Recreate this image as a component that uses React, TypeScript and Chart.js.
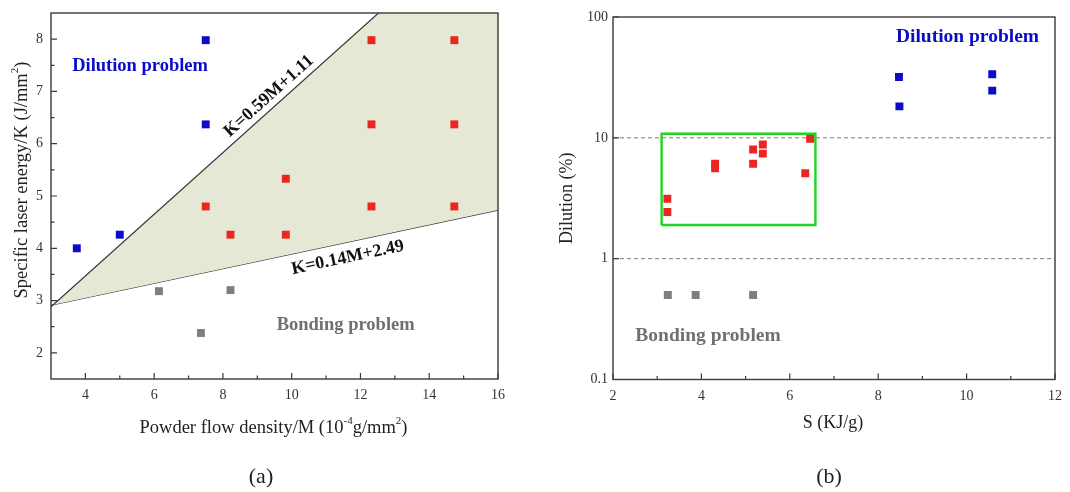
import React, { useEffect, useRef } from 'react';
import { Chart, registerables } from 'chart.js';

Chart.register(...registerables);

// ---------- Panel (a) data ----------
const dilutionA = [
  { x: 3.75, y: 4.0 }, { x: 5.0, y: 4.26 }, { x: 7.5, y: 6.37 }, { x: 7.5, y: 7.98 },
];
const suitableA = [
  { x: 12.32, y: 7.98 }, { x: 14.73, y: 7.98 }, { x: 12.32, y: 6.37 }, { x: 14.73, y: 6.37 },
  { x: 9.83, y: 5.33 }, { x: 7.5, y: 4.8 }, { x: 12.32, y: 4.8 }, { x: 14.73, y: 4.8 },
  { x: 8.22, y: 4.26 }, { x: 9.83, y: 4.26 },
];
const bondingA = [{ x: 6.14, y: 3.18 }, { x: 8.22, y: 3.2 }, { x: 7.36, y: 2.38 }];
// K = 0.59M + 1.11 and K = 0.14M + 2.49, evaluated at M = 3 and M = 16
const upperLineA = [{ x: 3, y: 2.88 }, { x: 16, y: 10.55 }];
const lowerLineA = [{ x: 3, y: 2.91 }, { x: 16, y: 4.73 }];
const xMajorA = [4, 6, 8, 10, 12, 14, 16];
const xMinorA = [5, 7, 9, 11, 13, 15];
const yMajorA = [2, 3, 4, 5, 6, 7, 8];
const yMinorA = [2.5, 3.5, 4.5, 5.5, 6.5, 7.5];

// ---------- Panel (b) data ----------
const suitableB = [
  { x: 3.23, y: 3.13 }, { x: 3.23, y: 2.43 }, { x: 4.31, y: 6.1 }, { x: 4.31, y: 5.6 },
  { x: 5.17, y: 8.0 }, { x: 5.17, y: 6.1 }, { x: 5.39, y: 8.8 }, { x: 5.39, y: 7.4 },
  { x: 6.35, y: 5.1 }, { x: 6.46, y: 9.8 },
];
const dilutionB = [{ x: 8.47, y: 31.9 }, { x: 8.48, y: 18.2 }, { x: 10.58, y: 33.6 }, { x: 10.58, y: 24.6 }];
const bondingB = [{ x: 3.24, y: 0.5 }, { x: 3.87, y: 0.5 }, { x: 5.17, y: 0.5 }];
const thresholdsB = [1, 10];
const windowX = [3.1, 6.58];
const windowY = [1.9, 10.8];
const xMajorB = [2, 4, 6, 8, 10, 12];
const xMinorB = [3, 5, 7, 9, 11];
const yMajorB = [0.1, 1, 10, 100];

// ---------- styles ----------
const SERIF = '"Liberation Serif", "Times New Roman", serif';
const BLUE = '#0c0cc8';
const RED = '#e9261f';
const GRAY = '#7e7e7e';
const FILL = '#e4e8d5';
const AXIS = '#3a3a3a';

type Seg = { t: string; sup?: boolean };

function drawRich(ctx: CanvasRenderingContext2D, segs: Seg[], x: number, y: number, size: number, rot: number, color: string, bold = false) {
  ctx.save();
  ctx.translate(x, y);
  ctx.rotate(rot);
  const w = bold ? 'bold ' : '';
  const base = `${w}${size}px ${SERIF}`;
  const sup = `${w}${Math.round(size * 0.62)}px ${SERIF}`;
  let total = 0;
  for (const s of segs) {
    ctx.font = s.sup ? sup : base;
    total += ctx.measureText(s.t).width;
  }
  let cx = -total / 2;
  ctx.fillStyle = color;
  ctx.textAlign = 'left';
  ctx.textBaseline = 'middle';
  for (const s of segs) {
    ctx.font = s.sup ? sup : base;
    ctx.fillText(s.t, cx, s.sup ? -size * 0.36 : 0);
    cx += ctx.measureText(s.t).width;
  }
  ctx.restore();
}

function drawFrame(chart: any, xMaj: number[], xMin: number[], yMaj: number[], yMin: number[]) {
  const { ctx, chartArea, scales } = chart;
  const { left, right, top, bottom } = chartArea;
  const sx = scales.x, sy = scales.y;
  ctx.save();
  ctx.strokeStyle = AXIS;
  ctx.lineWidth = 1.4;
  ctx.strokeRect(left, top, right - left, bottom - top);
  ctx.lineWidth = 1.2;
  ctx.beginPath();
  for (const v of xMaj) { const p = sx.getPixelForValue(v); ctx.moveTo(p, bottom); ctx.lineTo(p, bottom - 6); }
  for (const v of xMin) { const p = sx.getPixelForValue(v); ctx.moveTo(p, bottom); ctx.lineTo(p, bottom - 3.5); }
  for (const v of yMaj) { const p = sy.getPixelForValue(v); ctx.moveTo(left, p); ctx.lineTo(left + 6, p); }
  for (const v of yMin) { const p = sy.getPixelForValue(v); ctx.moveTo(left, p); ctx.lineTo(left + 3.5, p); }
  ctx.stroke();
  ctx.restore();
}

function label(chart: any, text: string, x: number, y: number, color: string, size: number, rot = 0) {
  const { ctx, scales } = chart;
  drawRich(ctx, [{ t: text }], scales.x.getPixelForValue(x), scales.y.getPixelForValue(y), size, rot, color, true);
}

function lineAngle(chart: any, pts: { x: number; y: number }[]) {
  const { scales } = chart;
  const x0 = scales.x.getPixelForValue(pts[0].x), y0 = scales.y.getPixelForValue(pts[0].y);
  const x1 = scales.x.getPixelForValue(pts[1].x), y1 = scales.y.getPixelForValue(pts[1].y);
  return Math.atan2(y1 - y0, x1 - x0);
}

const decorA = {
  id: 'decorA',
  afterDatasetsDraw(chart: any) {
    const { ctx, chartArea } = chart;
    drawFrame(chart, xMajorA, xMinorA, yMajorA, yMinorA);
    label(chart, 'Dilution problem', 5.59, 7.49, BLUE, 18.5);
    label(chart, 'Bonding problem', 11.57, 2.52, '#707070', 18.5);
    label(chart, 'K=0.59M+1.11', 9.34, 6.91, '#111', 18, lineAngle(chart, upperLineA));
    label(chart, 'K=0.14M+2.49', 11.63, 3.82, '#111', 18, lineAngle(chart, lowerLineA));
    const cx = (chartArea.left + chartArea.right) / 2;
    drawRich(ctx, [{ t: 'Powder flow density/M (10' }, { t: '-4', sup: true }, { t: 'g/mm' }, { t: '2', sup: true }, { t: ')' }], cx - 1, 428, 18.5, 0, '#222');
    drawRich(ctx, [{ t: 'Specific laser energy/K (J/mm' }, { t: '2', sup: true }, { t: ')' }], 22, 180, 18.5, -Math.PI / 2, '#222');
    drawRich(ctx, [{ t: '(a)' }], 261, 477, 22, 0, '#222');
  },
};

const decorB = {
  id: 'decorB',
  afterDatasetsDraw(chart: any) {
    const { ctx, chartArea } = chart;
    drawFrame(chart, xMajorB, xMinorB, yMajorB, []);
    label(chart, 'Dilution problem', 10.02, 69, BLUE, 19.5);
    label(chart, 'Bonding problem', 4.15, 0.229, '#707070', 19.5);
    drawRich(ctx, [{ t: 'S (KJ/g)' }], 298, 423, 18, 0, '#222');
    drawRich(ctx, [{ t: 'Dilution (%)' }], 32, (chartArea.top + chartArea.bottom) / 2, 18, -Math.PI / 2, '#222');
    drawRich(ctx, [{ t: '(b)' }], 294, 477, 22, 0, '#222');
  },
};

const pts = (data: any[], color: string) => ({
  data,
  pointStyle: 'rect',
  pointRadius: 5.6,
  pointHoverRadius: 5.6,
  backgroundColor: color,
  borderColor: color,
  borderWidth: 0,
  showLine: false,
});

const tickFont = { family: SERIF, size: 14 };
const noPad = (s: any) => { s.paddingTop = 0; s.paddingBottom = 0; s.paddingLeft = 0; s.paddingRight = 0; };

function PanelA() {
  const ref = useRef<HTMLCanvasElement>(null);
  useEffect(() => {
    const chart = new Chart(ref.current!, {
      type: 'scatter',
      data: {
        datasets: [
          pts(dilutionA, BLUE),
          pts(suitableA, RED),
          pts(bondingA, GRAY),
          {
            data: upperLineA, showLine: true, pointRadius: 0, borderColor: '#333', borderWidth: 1.2,
            fill: 4, backgroundColor: FILL,
          } as any,
          { data: lowerLineA, showLine: true, pointRadius: 0, borderColor: '#333', borderWidth: 1.2, fill: false } as any,
        ],
      },
      options: {
        animation: false,
        responsive: false,
        events: [],
        layout: { padding: { left: 0, top: 13, right: 32, bottom: 0 } },
        plugins: { legend: { display: false }, tooltip: { enabled: false } },
        scales: {
          x: {
            type: 'linear', min: 3, max: 16,
            grid: { display: false, drawTicks: false }, border: { display: false },
            ticks: { font: tickFont, color: '#333', padding: 8, maxRotation: 0 },
            afterBuildTicks: (s: any) => { s.ticks = xMajorA.map((v) => ({ value: v })); },
            afterFit: (s: any) => { s.height = 113; noPad(s); },
          },
          y: {
            type: 'linear', min: 1.5, max: 8.5,
            grid: { display: false, drawTicks: false }, border: { display: false },
            ticks: { font: tickFont, color: '#333', padding: 8 },
            afterBuildTicks: (s: any) => { s.ticks = yMajorA.map((v) => ({ value: v })); },
            afterFit: (s: any) => { s.width = 51; noPad(s); },
          },
        },
      },
      plugins: [decorA],
    });
    return () => chart.destroy();
  }, []);
  return <canvas ref={ref} width={530} height={492} style={{ position: 'absolute', left: 0, top: 0, width: 530, height: 492 }} />;
}

function PanelB() {
  const ref = useRef<HTMLCanvasElement>(null);
  useEffect(() => {
    const dashed = (v: number) => ({
      data: [{ x: 2, y: v }, { x: 12, y: v }], showLine: true, pointRadius: 0,
      borderColor: '#7a7a7a', borderWidth: 1, borderDash: [4, 3], fill: false,
    });
    const rect = [
      { x: windowX[0], y: windowY[0] }, { x: windowX[1], y: windowY[0] }, { x: windowX[1], y: windowY[1] },
      { x: windowX[0], y: windowY[1] }, { x: windowX[0], y: windowY[0] },
    ];
    const chart = new Chart(ref.current!, {
      type: 'scatter',
      data: {
        datasets: [
          pts(suitableB, RED),
          pts(dilutionB, BLUE),
          pts(bondingB, GRAY),
          { data: rect, showLine: true, pointRadius: 0, borderColor: '#1fd41f', borderWidth: 2.4, fill: false } as any,
          ...thresholdsB.map(dashed) as any[],
        ],
      },
      options: {
        animation: false,
        responsive: false,
        events: [],
        layout: { padding: { left: 0, top: 17, right: 15, bottom: 0 } },
        plugins: { legend: { display: false }, tooltip: { enabled: false } },
        scales: {
          x: {
            type: 'linear', min: 2, max: 12,
            grid: { display: false, drawTicks: false }, border: { display: false },
            ticks: { font: tickFont, color: '#333', padding: 8, maxRotation: 0 },
            afterBuildTicks: (s: any) => { s.ticks = xMajorB.map((v) => ({ value: v })); },
            afterFit: (s: any) => { s.height = 112.5; noPad(s); },
          },
          y: {
            type: 'logarithmic', min: 0.1, max: 100,
            grid: { display: false, drawTicks: false }, border: { display: false },
            ticks: { font: tickFont, color: '#333', padding: 5, callback: (v: any) => String(v) },
            afterBuildTicks: (s: any) => { s.ticks = yMajorB.map((v) => ({ value: v })); },
            afterFit: (s: any) => { s.width = 78; noPad(s); },
          },
        },
      },
      plugins: [decorB],
    });
    return () => chart.destroy();
  }, []);
  return <canvas ref={ref} width={535} height={492} style={{ position: 'absolute', left: 535, top: 0, width: 535, height: 492 }} />;
}

export default function App() {
  return (
    <div style={{ position: 'absolute', left: 0, top: 0, width: 1070, height: 492, background: '#fff', overflow: 'hidden' }}>
      <PanelA />
      <PanelB />
    </div>
  );
}
